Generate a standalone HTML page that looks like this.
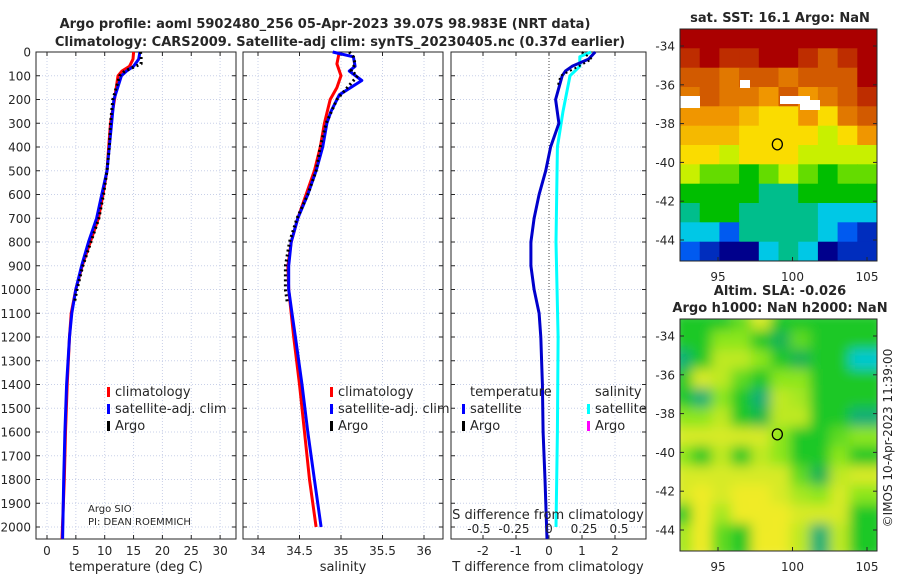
<!DOCTYPE html>
<html><head><meta charset="utf-8"><style>
body{margin:0;background:#fff;font-family:"Liberation Sans","DejaVu Sans",sans-serif}
svg text{font-family:"DejaVu Sans","Liberation Sans",sans-serif;fill:#262626}
</style></head><body>
<svg id="c" width="900" height="580" viewBox="0 0 900 580" xmlns="http://www.w3.org/2000/svg"></svg>
<script>
// ---- data ----
const depthTicks=[0,100,200,300,400,500,600,700,800,900,1000,1100,1200,1300,1400,1500,1600,1700,1800,1900,2000];
const tempTicks=[0,5,10,15,20,25,30];
const salTicks=[34,34.5,35,35.5,36];
const tdiffTicks=[-2,-1,0,1,2];
const sdiffTicks=[-0.5,-0.25,0,0.25,0.5];
const tClimDepth=[0,30,60,80,100,200,300,400,500,600,700,800,900,1000,1100,1200,1400,1600,1800,2050];
const tClim=[15.0,14.9,14.3,13.0,12.3,11.7,11.0,10.7,10.4,9.7,8.9,7.5,6.1,5.0,4.2,3.9,3.5,3.2,3.0,2.6];
const tSat=[16.1,15.9,15.0,13.8,12.9,11.6,11.2,10.8,10.4,9.5,8.6,7.2,6.0,5.0,4.3,3.9,3.4,3.1,2.9,2.7];
const argoDepth=[0,20,50,80,100,200,300,400,500,600,700,800,900,1000,1050];
const tArgo=[16.2,16.3,16.3,13.5,12.6,11.4,11.0,10.8,10.4,9.8,9.0,7.6,6.2,5.2,4.8];
const sClimDepth=[0,50,100,150,200,300,400,500,600,700,800,900,1000,1100,1200,1400,1600,1800,2000];
const sClim=[34.98,34.95,35.0,34.95,34.87,34.8,34.75,34.68,34.58,34.48,34.4,34.36,34.37,34.4,34.43,34.5,34.56,34.62,34.7];
const sSatDepth=[0,20,60,80,120,180,250,300,400,500,600,700,800,900,1000,1100,1200,1400,1600,1800,2000];
const sSat=[34.9,35.15,35.17,35.1,35.25,34.98,34.88,34.83,34.78,34.7,34.6,34.48,34.4,34.37,34.37,34.41,34.45,34.53,34.6,34.68,34.76];
const sArgo=[35.1,35.15,35.17,35.12,35.2,34.95,34.82,34.75,34.7,34.6,34.47,34.38,34.33,34.33,34.35];
const tDiff=[1.4,1.2,0.7,0.5,0.4,0.2,0.3,0.05,-0.1,-0.3,-0.45,-0.55,-0.55,-0.45,-0.3,-0.25,-0.2,-0.18,-0.12,-0.06];
const sDiffDepth=[0,20,60,100,250,400,800,1200,1600,2000];
const sDiff=[0.3,0.22,0.22,0.15,0.1,0.06,0.05,0.065,0.06,0.05];
const argoDiffDepth=[0,30,60,100,150];
const tArgoDiff=[1.0,1.3,0.9,0.35,0.25];
const sstGrid=[
[20,20,20,20,20,20,20,20,20,20],
[19.5,20,19.5,19.5,20,20,19.5,19,19.5,20],
[19,19,18.5,19,19,18.5,19,19,19,20],
[18.5,19,18.5,18.5,18,19,18,18.5,19,19.5],
[18,18,18,17.5,17,17,18,17,18.5,19],
[17.5,17.5,17.5,17,17,17,17,16.5,17,18],
[17,17,16.5,17,17,17,16.5,16.5,16.5,16.5],
[16.5,16,16,15.5,16,16.5,16,15.5,16,16],
[15.5,15.5,15.5,15.5,15,15,15.5,15.5,15.5,15.5],
[15,15.5,15.5,15,15,15,15,14.5,14.5,14.5],
[14.5,14.5,14,15,15,15,15,14.5,14,13.5],
[14,13.5,13,13,14.5,15,14.5,13,13.5,13.5]];
const slaGrid=[
[0,0,0,0.3,0.8,0,0,0,0,0],
[0,0,0.5,0.5,0,-0.3,0.3,0,0,0],
[-0.5,0,0.7,0.7,0.5,0,-0.3,0,0,-1],
[0,0.8,0.7,0.3,0,0.5,0.5,0,0,0],
[0,-0.5,0.5,0,-0.5,0.7,0.6,0,0,0],
[0.5,0.5,0.7,0,-0.2,0.7,0.7,0,0,-0.5],
[0.8,0.8,0.8,0.8,0.8,0.5,0,0,0.3,0.5],
[0.5,0,0.7,0,0.7,0.5,0,0,0.5,0],
[0.8,0.8,0.8,0.8,0.8,0.8,0.3,-0.3,0.7,0.8],
[0.8,0.9,0.8,0.9,0.9,0.8,0.6,0.5,0.8,0.5],
[0,0.9,0.6,0.9,0.9,0.9,0.8,0.8,0.8,0],
[0.6,0.9,0.3,0,0.9,0.9,0.7,-0.5,0.7,0]];
const lonTicks=[95,100,105];
const latTicks=[-34,-36,-38,-40,-42,-44];
const argoLon=[98.983], argoLat=[-39.07];

// ---- drawing ----
const NS="http://www.w3.org/2000/svg", svg=document.getElementById('c');
function el(t,a,p){const e=document.createElementNS(NS,t);for(const k in a)e.setAttribute(k,a[k]);(p||svg).appendChild(e);return e;}
function txt(x,y,s,a,p){const e=el('text',Object.assign({x:x,y:y},a||{}),p);e.textContent=s;return e;}
const Y0=52,Y1=539,dy=d=>Y0+d*0.2375;
function panel(name,x0,x1,xs,ticks,fmt,grid){
  const g=el('g',{});
  
  
  ticks.forEach(t=>{el('line',{x1:xs(t),x2:xs(t),y1:Y0,y2:Y1,stroke:'#c8d0e8','stroke-width':1,'stroke-dasharray':'1,2'},g);});
  depthTicks.forEach(d=>{el('line',{x1:x0,x2:x1,y1:dy(d),y2:dy(d),stroke:'#c8d0e8','stroke-width':1,'stroke-dasharray':'1,2'},g);
    el('line',{x1:x0,x2:x0+4,y1:dy(d),y2:dy(d),stroke:'#262626'},g);el('line',{x1:x1-4,x2:x1,y1:dy(d),y2:dy(d),stroke:'#262626'},g);});
  ticks.forEach(t=>{el('line',{x1:xs(t),x2:xs(t),y1:Y1-4,y2:Y1,stroke:'#262626'},g);el('line',{x1:xs(t),x2:xs(t),y1:Y0,y2:Y0+4,stroke:'#262626'},g);
    if(fmt)txt(xs(t),555,fmt(t),{'font-size':12,'text-anchor':'middle'},g);});
  el('rect',{x:x0,y:Y0,width:x1-x0,height:Y1-Y0,fill:'none',stroke:'#262626'},g);
  return g;
}
function line(g,name,xs,vals,depths,color,w,dash){
  const pts=vals.map((v,i)=>xs(v).toFixed(1)+','+dy(depths[i]).toFixed(1)).join(' ');
  const p=el('polyline',{points:pts,fill:'none',stroke:color,'stroke-width':w,'stroke-linejoin':'round'},g);
  if(dash)p.setAttribute('stroke-dasharray',dash);
  
  
}
// titles
txt(325,28,'Argo profile: aoml 5902480_256 05-Apr-2023 39.07S 98.983E (NRT data)',{'font-size':13,'font-weight':'bold','text-anchor':'middle',fill:'#000'});
txt(340,46,'Climatology: CARS2009. Satellite-adj clim: synTS_20230405.nc (0.37d earlier)',{'font-size':13,'font-weight':'bold','text-anchor':'middle',fill:'#000'});
depthTicks.forEach(d=>txt(31,dy(d)+4.5,String(d),{'font-size':12,'text-anchor':'end'}));

// panel 1
const xT=t=>47+t*5.77;
const p1=panel('temperature-panel',36,236,xT,tempTicks,t=>String(t));
line(p1,'temp-climatology',xT,tClim,tClimDepth,'#f00',3);
line(p1,'temp-satellite',xT,tSat,tClimDepth,'#00f',3);
line(p1,'temp-argo',xT,tArgo,argoDepth,'#000',3,'2,3');
txt(136,571,'temperature (deg C)',{'font-size':13,'text-anchor':'middle'});
txt(88,512,'Argo SIO',{'font-size':10});txt(88,525,'PI: DEAN ROEMMICH',{'font-size':10});
function legend(x,y,items){items.forEach((it,i)=>{el('rect',{x:x,y:y+i*17-9,width:3,height:10,fill:it[1]});const t=txt(x+8,y+i*17,it[0],{'font-size':13});});}
legend(107,396,[['climatology','#f00'],['satellite-adj. clim','#00f'],['Argo','#000']]);

// panel 2
const xS=s=>258+(s-34)*83;
const p2=panel('salinity-panel',243,443,xS,salTicks,t=>String(t));
line(p2,'sal-climatology',xS,sClim,sClimDepth,'#f00',3);
line(p2,'sal-satellite',xS,sSat,sSatDepth,'#00f',3);
line(p2,'sal-argo',xS,sArgo,argoDepth,'#000',3,'2,3');
txt(343,571,'salinity',{'font-size':13,'text-anchor':'middle'});
legend(330,396,[['climatology','#f00'],['satellite-adj. clim','#00f'],['Argo','#000']]);

// panel 3
const xTD=t=>549+t*33, xSD=s=>549+s*140;
const p3=panel('difference-panel',451,646,xTD,tdiffTicks,t=>String(t));
el('line',{x1:549,x2:549,y1:Y0,y2:Y1,stroke:'#444','stroke-dasharray':'1,2'},p3);
line(p3,'sal-diff-satellite',xSD,sDiff,sDiffDepth,'#0ff',3);
line(p3,'temp-diff-satellite',xTD,tDiff,tClimDepth,'#00c',3);
line(p3,'temp-diff-argo',xTD,tArgoDiff,argoDiffDepth,'#000',2,'2,3');
sdiffTicks.forEach(s=>{const l=String(s).replace('0.','0.');txt(xSD(s),533,s===0?'0':String(s),{'font-size':12,'text-anchor':'middle'});});
txt(548,519,'S difference from climatology',{'font-size':13,'text-anchor':'middle'});
txt(548,571,'T difference from climatology',{'font-size':13,'text-anchor':'middle'});
txt(470,396,'temperature',{'font-size':13});txt(595,396,'salinity',{'font-size':13});
el('rect',{x:462,y:404,width:3,height:10,fill:'#00f'});txt(470,413,'satellite',{'font-size':13});
el('rect',{x:462,y:421,width:3,height:10,fill:'#000'});txt(470,430,'Argo',{'font-size':13});
el('rect',{x:587,y:404,width:3,height:10,fill:'#0ff'});txt(595,413,'satellite',{'font-size':13});
el('rect',{x:587,y:421,width:3,height:10,fill:'#f0f'});txt(595,430,'Argo',{'font-size':13});

// maps
function jet(v){const stops=[[13,[0,0,140]],[14,[0,90,240]],[14.5,[0,200,230]],[15,[0,190,140]],[15.5,[0,190,0]],[16,[100,220,0]],[16.5,[200,240,0]],[17,[250,220,0]],[18,[240,150,0]],[19,[210,90,0]],[20,[170,0,0]]];
 if(v<=stops[0][0])return 'rgb('+stops[0][1]+')';for(let i=1;i<stops.length;i++){if(v<=stops[i][0]){const a=stops[i-1],b=stops[i],f=(v-a[0])/(b[0]-a[0]);return 'rgb('+a[1].map((c,k)=>Math.round(c+(b[1][k]-c)*f)).join(',')+')';}}return 'rgb(170,0,0)';}
function slaCol(v){const stops=[[-1,[0,200,210]],[-0.4,[20,170,100]],[0,[30,200,40]],[0.5,[140,230,30]],[0.9,[240,235,40]]];
 for(let i=1;i<stops.length;i++){if(v<=stops[i][0]){const a=stops[i-1],b=stops[i],f=Math.max(0,(v-a[0])/(b[0]-a[0]));return 'rgb('+a[1].map((c,k)=>Math.round(c+(b[1][k]-c)*f)).join(',')+')';}}return 'rgb(240,235,40)';}
el('defs',{}).innerHTML='<filter id="bl" x="0" y="0" width="1" height="1"><feGaussianBlur stdDeviation="6"/></filter><clipPath id="c1"><rect x="680" y="29" width="197" height="232"/></clipPath><clipPath id="c2"><rect x="680" y="319" width="197" height="232"/></clipPath>';
function map(name,top,grid,col,latAt,blur,title){
  const g=el('g',{});
  
  
  const lx=l=>718+(l-95)*14.9, ly=latAt;
  const cells=el('g',{'clip-path':'url(#'+(blur?'c2':'c1')+')'},g);
  const inner=el('g',blur?{filter:'url(#bl)'}:{},cells);
  const cw=197/10,ch=232/12;
  grid.forEach((row,r)=>row.forEach((v,c)=>{el('rect',{x:(680+c*cw-(blur?8:0)).toFixed(1),y:(top+r*ch-(blur?8:0)).toFixed(1),width:(cw+0.6+(blur?16:0)).toFixed(1),height:(ch+0.6+(blur?16:0)).toFixed(1),fill:col(v)},inner);}));
  if(!blur){[[700,316,20,12],[800,316,30,8],[820,320,20,10],[760,300,10,8]].forEach(a=>el('rect',{x:a[0]-20,y:a[1]-220,width:a[2],height:a[3],fill:'#fff'},cells));}
  el('rect',{x:680,y:top,width:197,height:232,fill:'none',stroke:'#262626'},g);
  lonTicks.forEach(l=>{el('line',{x1:lx(l),x2:lx(l),y1:top+232,y2:top+228,stroke:'#262626'},g);txt(lx(l),top+252,String(l),{'font-size':12,'text-anchor':'middle'},g);});
  latTicks.forEach(l=>{el('line',{x1:680,x2:684,y1:ly(l),y2:ly(l),stroke:'#262626'},g);el('line',{x1:873,x2:877,y1:ly(l),y2:ly(l),stroke:'#262626'},g);txt(675,ly(l)+4.5,String(l),{'font-size':12,'text-anchor':'end'},g);});
  el('ellipse',{cx:lx(argoLon[0]),cy:ly(argoLat[0]),rx:5,ry:5.5,fill:'none',stroke:'#000','stroke-width':1.3},g);
  title.forEach((t,i)=>txt(780,top-(title.length-1-i)*17-7,t,{'font-size':13,'font-weight':'bold','text-anchor':'middle',fill:'#000'},g));
}
map('sst-map',29,sstGrid,jet,l=>46+(-34-l)*19.4,false,['sat. SST: 16.1 Argo: NaN']);
map('sla-map',319,slaGrid,slaCol,l=>336+(-34-l)*19.4,true,['Altim. SLA: -0.026','Argo h1000: NaN h2000: NaN']);
const cr=txt(0,0,'©IMOS 10-Apr-2023 11:39:00',{'font-size':12,'text-anchor':'middle',transform:'translate(892,438) rotate(-90)'});

</script>
</body></html>
